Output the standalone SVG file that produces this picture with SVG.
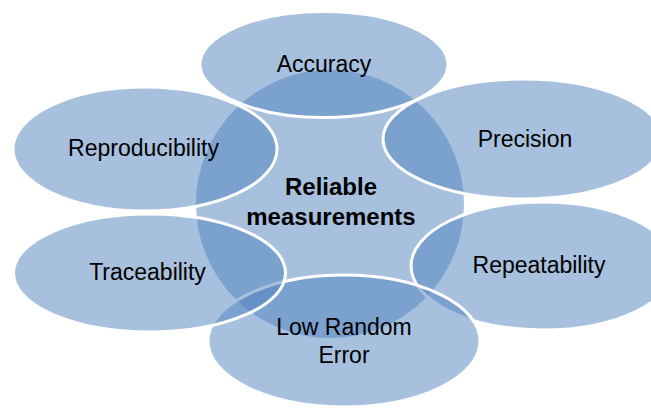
<svg xmlns="http://www.w3.org/2000/svg" width="651" height="408" viewBox="0 0 651 408">
<style>
.bg{fill:#ffffff}
.hub{fill:#4F81BD;fill-opacity:0.5;stroke:none}
.sat{fill:#4F81BD;fill-opacity:0.5;stroke:#ffffff;stroke-width:3}
.lbl{font-family:"Liberation Sans",Arial,sans-serif;font-size:23px;fill:#000000;text-anchor:middle}
.hubl{font-family:"Liberation Sans",Arial,sans-serif;font-size:24px;font-weight:bold;fill:#000000;text-anchor:middle}
</style>
<rect class="bg" x="0" y="0" width="651" height="408"/>
<g id="hub-shape"><circle class="hub" cx="330" cy="204" r="134"/></g>
<g id="accuracy"><ellipse class="sat" cx="324" cy="64.5" rx="124" ry="53"/><text class="lbl" x="324" y="72">Accuracy</text></g>
<g id="precision"><ellipse class="sat" cx="523" cy="139" rx="140" ry="60"/><text class="lbl" x="525" y="147">Precision</text></g>
<g id="repeatability"><ellipse class="sat" cx="543" cy="266" rx="132" ry="64"/><text class="lbl" x="539" y="273">Repeatability</text></g>
<g id="low-random-error"><ellipse class="sat" cx="344" cy="341" rx="136" ry="66"/><text class="lbl" x="344" y="335">Low Random</text><text class="lbl" x="344" y="363">Error</text></g>
<g id="traceability"><ellipse class="sat" cx="149.5" cy="273" rx="136" ry="59"/><text class="lbl" x="147.5" y="280">Traceability</text></g>
<g id="reproducibility"><ellipse class="sat" cx="145" cy="149" rx="132" ry="62"/><text class="lbl" x="143.5" y="156">Reproducibility</text></g>
<g id="reliable-measurements"><text class="hubl" x="331" y="195">Reliable</text><text class="hubl" x="331" y="225">measurements</text></g>
<g id="connectors"></g>
</svg>
